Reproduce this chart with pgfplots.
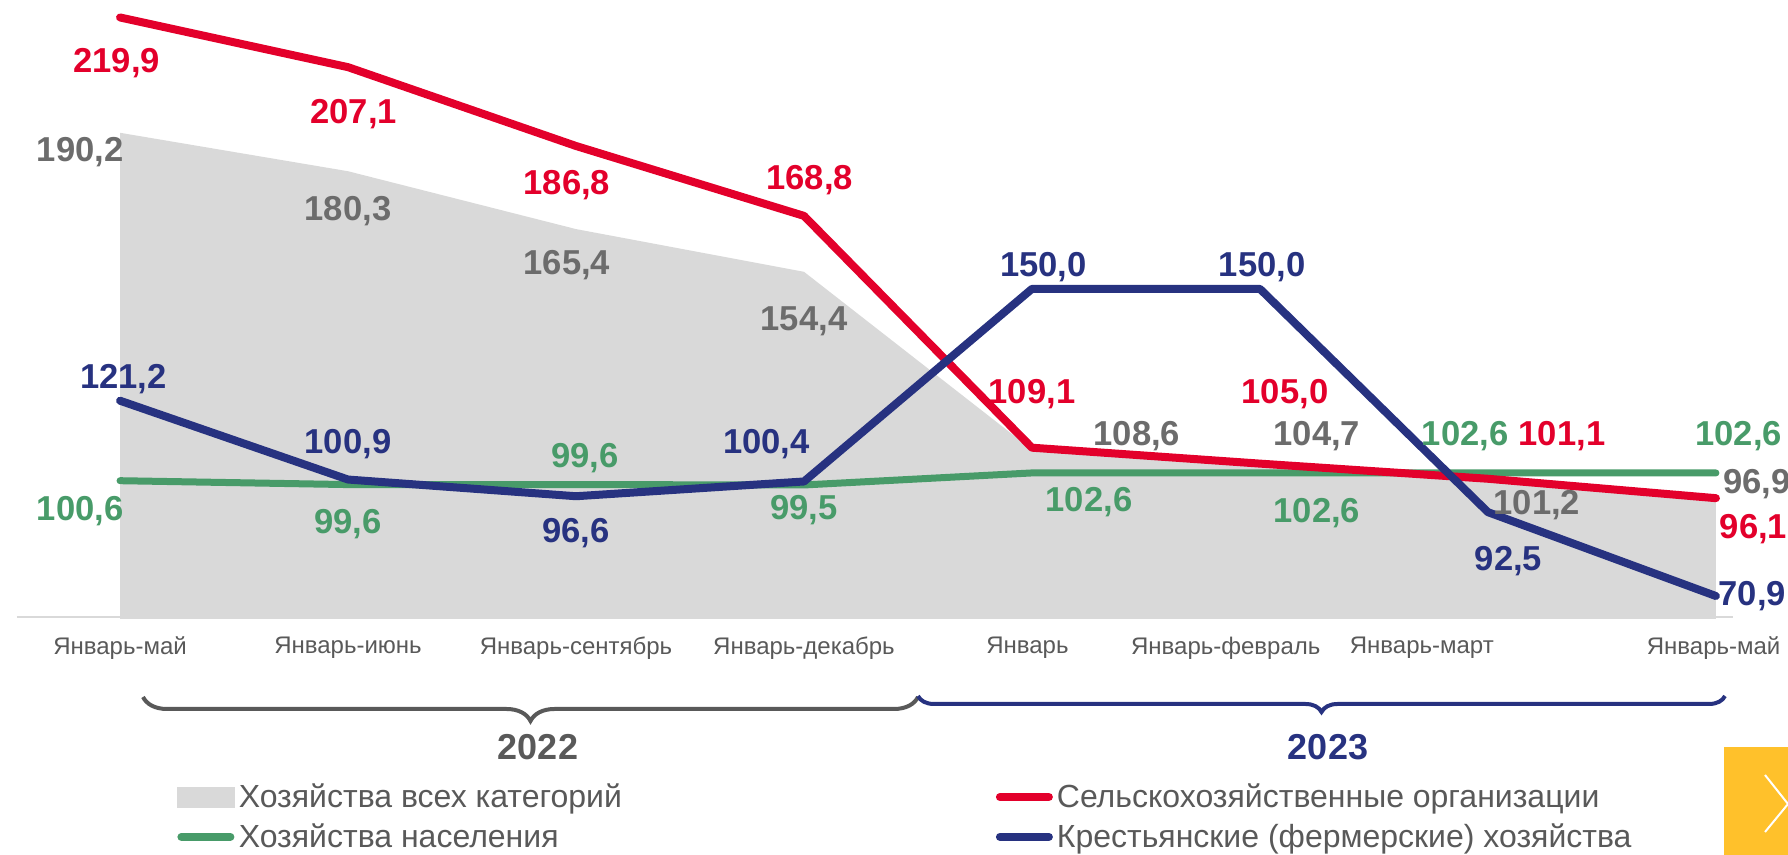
\documentclass[border=0pt]{standalone}
\usepackage{pgfplots}
\pgfplotsset{compat=1.18}
\usepackage{fontspec}
\setmainfont{Liberation Sans}
\usetikzlibrary{decorations.pathreplacing}
\definecolor{cRed}{RGB}{227,0,43}
\definecolor{cBlue}{RGB}{39,50,128}
\definecolor{cGreen}{RGB}{72,155,105}
\definecolor{cArea}{RGB}{217,217,217}
\definecolor{cGrayTxt}{RGB}{108,108,108}
\definecolor{cDark}{RGB}{89,89,89}
\definecolor{cYellow}{RGB}{255,193,43}
\newcommand{\vl}{\fontsize{17.3}{19}\selectfont\bfseries}
\newcommand{\lbl}[4]{\node[text=#3, font=\vl, inner sep=0pt] at (axis cs:#1,#2) {#4};}

\begin{document}
\begin{tikzpicture}[x=1pt,y=1pt]
\path[use as bounding box] (0,0) rectangle (894,427.5);
\begin{axis}[
  at={(8.5pt,119pt)}, anchor=south west,
  scale only axis, width=858pt, height=308.5pt,
  xmin=-0.452, xmax=7.075, ymin=65.5, ymax=224.4,
  clip=false,
  axis x line*=bottom, axis y line=none,
  x axis line style={-, cArea, line width=1pt},
  xtick={0,1,2,3,3.98,4.85,5.71,6.99},
  xticklabels={Январь-май,Январь-июнь,Январь-сентябрь,Январь-декабрь,Январь,Январь-февраль,Январь-март,Январь-май},
  major tick length=0pt,
  ytick=\empty,
  tick label style={font=\fontsize{12}{14}\selectfont, text=cDark, yshift=-6.5pt},
  legend columns=2,
  legend cell align=left,
  legend style={at={(axis description cs:0.093,-0.263)}, anchor=north west,
    draw=none, fill=none, font=\fontsize{16}{18}\selectfont, text=cDark,
    inner sep=0pt, row sep=2.5pt,
    /tikz/every even column/.append style={column sep=185pt}},
]
% Хозяйства всех категорий (area)
\addplot[fill=cArea, draw=none, forget plot] coordinates {
  (0,65.0) (0,190.2) (1,180.3) (2,165.4) (3,154.4) (4,108.6) (5,104.7) (6,101.2) (7,96.9) (7,65.0)
} -- cycle;
% Хозяйства населения
\addplot[cGreen, line width=3.5pt, line cap=round, line join=round, forget plot] coordinates {
  (0,100.6) (1,99.6) (2,99.6) (3,99.5) (4,102.6) (5,102.6) (6,102.6) (7,102.6)
};
% Сельскохозяйственные организации
\addplot[cRed, line width=4pt, line cap=round, line join=round, forget plot] coordinates {
  (0,219.9) (1,207.1) (2,186.8) (3,168.8) (4,109.1) (5,105.0) (6,101.1) (7,96.1)
};
% Крестьянские (фермерские) хозяйства
\addplot[cBlue, line width=4pt, line cap=round, line join=round, forget plot] coordinates {
  (0,121.2) (1,100.9) (2,96.6) (3,100.4) (4,150.0) (5,150.0) (6,92.5) (7,70.9)
};

\addlegendimage{legend image code/.code={\fill[cArea] (0pt,-5pt) rectangle (28.5pt,5pt);}}
\addlegendentry{Хозяйства всех категорий}
\addlegendimage{legend image code/.code={\draw[cRed, line width=4pt, line cap=round] (2pt,0pt) -- (26.5pt,0pt);}}
\addlegendentry{Сельскохозяйственные организации}
\addlegendimage{legend image code/.code={\draw[cGreen, line width=4pt, line cap=round] (2pt,0pt) -- (26.5pt,0pt);}}
\addlegendentry{Хозяйства населения}
\addlegendimage{legend image code/.code={\draw[cBlue, line width=4pt, line cap=round] (2pt,0pt) -- (26.5pt,0pt);}}
\addlegendentry{Крестьянские (фермерские) хозяйства}

% red labels
\lbl{-0.015}{208.2}{cRed}{219,9}
\lbl{1.025}{195.0}{cRed}{207,1}
\lbl{1.96}{176.8}{cRed}{186,8}
\lbl{3.025}{178.0}{cRed}{168,8}
\lbl{4.0}{123.0}{cRed}{109,1}
\lbl{5.11}{123.0}{cRed}{105,0}
\lbl{6.325}{112.2}{cRed}{101,1}
\lbl{7.165}{88.1}{cRed}{96,1}
% gray labels
\lbl{-0.175}{185.3}{cGrayTxt}{190,2}
\lbl{1.0}{170.0}{cGrayTxt}{180,3}
\lbl{1.96}{156.2}{cGrayTxt}{165,4}
\lbl{3.0}{141.6}{cGrayTxt}{154,4}
\lbl{4.46}{112.2}{cGrayTxt}{108,6}
\lbl{5.25}{112.2}{cGrayTxt}{104,7}
\lbl{6.215}{94.3}{cGrayTxt}{101,2}
\lbl{7.18}{99.8}{cGrayTxt}{96,9}
% blue labels
\lbl{0.015}{126.8}{cBlue}{121,2}
\lbl{1.0}{109.9}{cBlue}{100,9}
\lbl{2.0}{87.2}{cBlue}{96,6}
\lbl{2.835}{109.9}{cBlue}{100,4}
\lbl{4.05}{155.7}{cBlue}{150,0}
\lbl{5.01}{155.7}{cBlue}{150,0}
\lbl{6.09}{79.9}{cBlue}{92,5}
\lbl{7.16}{70.8}{cBlue}{70,9}
% green labels
\lbl{-0.175}{92.8}{cGreen}{100,6}
\lbl{1.0}{89.3}{cGreen}{99,6}
\lbl{2.04}{106.3}{cGreen}{99,6}
\lbl{3.0}{93.1}{cGreen}{99,5}
\lbl{4.25}{95.2}{cGreen}{102,6}
\lbl{5.25}{92.2}{cGreen}{102,6}
\lbl{5.9}{112.2}{cGreen}{102,6}
\lbl{7.1}{112.2}{cGreen}{102,6}
\end{axis}

% year braces
\draw[cDark, line width=2pt, decorate, decoration={brace, mirror, amplitude=12pt}] (71.5,79) -- (459,79);
\draw[cBlue, line width=2pt, decorate, decoration={brace, mirror, amplitude=8pt}] (459,79.5) -- (862.5,79.5);
\node[font=\fontsize{18}{20}\selectfont\bfseries, text=cDark] at (269,54) {2022};
\node[font=\fontsize{18}{20}\selectfont\bfseries, text=cBlue] at (664,54) {2023};

% navigation button
\fill[cYellow] (862,0) rectangle (894,54);
\draw[white, line width=1pt] (882.5,40) -- (894,25.5) -- (882.5,11.5);
\end{tikzpicture}
\end{document}
